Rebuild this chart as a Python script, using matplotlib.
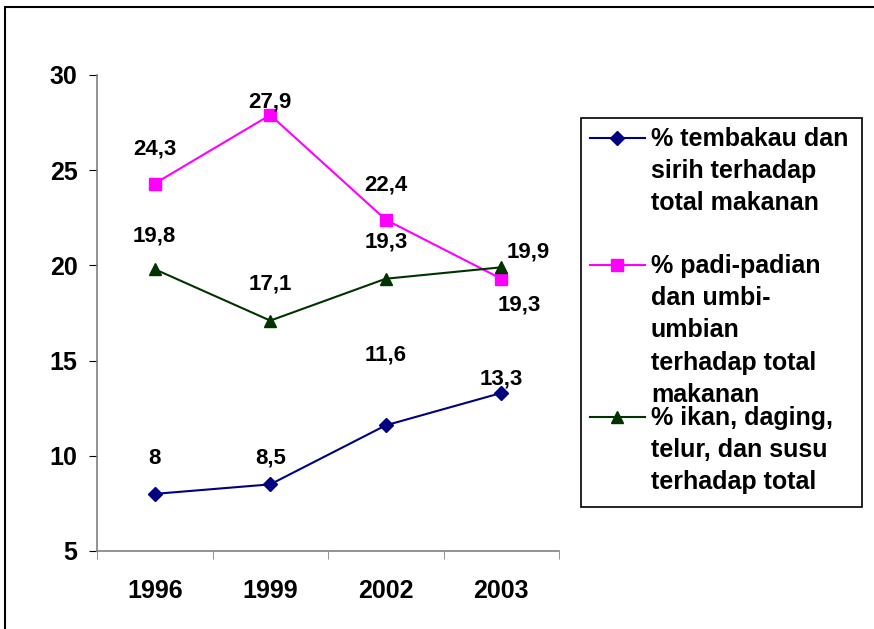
import matplotlib
matplotlib.use("Agg")
import matplotlib.pyplot as plt
from matplotlib.lines import Line2D
from matplotlib.patches import Rectangle

plt.rcParams['font.family'] = ['Liberation Sans', 'DejaVu Sans']
plt.rcParams['font.weight'] = 'bold'

# data
years = ['1996', '1999', '2002', '2003']
tembakau = [8, 8.5, 11.6, 13.3]
padi = [24.3, 27.9, 22.4, 19.3]
ikan = [19.8, 17.1, 19.3, 19.9]
series_names = ['% tembakau dan\nsirih terhadap\ntotal makanan',
                '% padi-padian\ndan umbi-\numbian\nterhadap total\nmakanan',
                '% ikan, daging,\ntelur, dan susu\nterhadap total']

colors = ['#000080', '#FF00FF', '#003300']
markers = ['D', 's', '^']
msizes = [7, 9, 9]

# label offsets in pixels (Excel auto placement)
label_offsets = [
    [(0, 35), (0, 26), (0, 70), (0, 14)],
    [(0, 35), (0, 13), (0, 35), (18, -26)],
    [(0, 33), (0, 37), (0, 37), (27, 15)],
]

fig = plt.figure(figsize=(8.74, 6.29), dpi=100)
W, H = 874, 629
ax = fig.add_axes([97 / W, 1 - 551 / H, 462 / W, 476 / H])

x = list(range(len(years)))
all_series = [tembakau, padi, ikan]
for vals, c, m, ms, offs in zip(all_series, colors, markers, msizes, label_offsets):
    ax.plot(x, vals, color=c, lw=1.5, marker=m, markersize=ms,
            markerfacecolor=c, markeredgecolor=c)
    for xi, v, off in zip(x, vals, offs):
        ax.annotate(f"{v:g}".replace('.', ','), (xi, v), xytext=off,
                    textcoords='offset pixels', ha='center', va='center',
                    fontsize=16, fontweight='bold')

ax.set_xlim(-0.5, len(years) - 0.5)
ax.set_ylim(5, 30)
ax.set_yticks([5, 10, 15, 20, 25, 30])
ax.set_yticklabels(['5', '10', '15', '20', '25', '30'], fontsize=18, fontweight='bold')
ax.set_xticks(x)
ax.set_xticklabels(years, fontsize=18, fontweight='bold')
ax.set_xticks([-0.5, 0.5, 1.5, 2.5, 3.5], minor=True)
ax.tick_params(axis='x', which='major', length=0, pad=20)
ax.tick_params(axis='x', which='minor', length=6, direction='out', color='#808080')
ax.tick_params(axis='y', length=6, direction='out', pad=8, color='black')
for s in ['top', 'right']:
    ax.spines[s].set_visible(False)
for s in ['left', 'bottom']:
    ax.spines[s].set_color('#808080')
    ax.spines[s].set_linewidth(1.2)

# outer chart border
fig.patches.append(Rectangle((5 / W, -0.1), 1.0, 1 - 7 / H + 0.1,
                             transform=fig.transFigure, fill=False,
                             edgecolor='black', lw=1.5))

# legend box
fig.patches.append(Rectangle((581 / W, 1 - 507 / H), 281 / W, 389 / H,
                             transform=fig.transFigure, fill=False,
                             edgecolor='black', lw=1.2))
legend_y = [138, 265, 417]
for name, c, m, ms, ly in zip(series_names, colors, markers, msizes, legend_y):
    yf = 1 - ly / H
    fig.lines.append(Line2D([590 / W, 645 / W], [yf, yf], transform=fig.transFigure,
                            color=c, lw=1.5))
    fig.lines.append(Line2D([617 / W], [yf], transform=fig.transFigure,
                            color=c, marker=m, markersize=ms))
    fig.text(651 / W, yf + 11 / H, name, ha='left', va='top', fontsize=18,
             fontweight='bold', linespacing=1.43)

fig.savefig('out.png', dpi=100)
